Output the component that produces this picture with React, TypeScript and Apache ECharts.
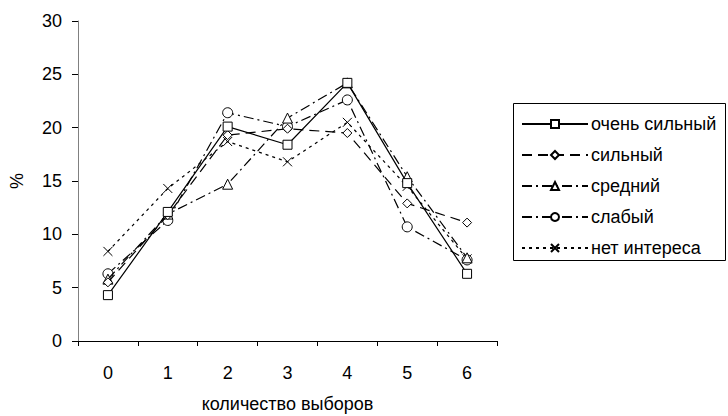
import React, { useEffect, useRef } from "react";
import * as echarts from "echarts";

const categories = ["0", "1", "2", "3", "4", "5", "6"];
const seriesNames = ["очень сильный", "сильный", "средний", "слабый", "нет интереса"];
const veryStrong = [4.3, 12.1, 20.1, 18.4, 24.2, 14.8, 6.3];
const strong = [5.5, 11.8, 19.3, 19.9, 19.5, 12.9, 11.1];
const medium = [5.8, 11.9, 14.7, 20.9, 24.2, 15.4, 7.8];
const weak = [6.3, 11.3, 21.4, 20.1, 22.6, 10.7, 7.6];
const noInterest = [8.4, 14.3, 18.7, 16.8, 20.5, 14.5, 7.7];

const FONT = "'Liberation Sans', Arial, sans-serif";
const FS = 18;

export default function App() {
  const ref = useRef<HTMLDivElement>(null);
  useEffect(() => {
    if (!ref.current) return;
    const chart = echarts.init(ref.current, null, { renderer: "svg" });
    const dataSets = [veryStrong, strong, medium, weak, noInterest];
    const symbols = [
      "rect",
      "diamond",
      "triangle",
      "circle",
      "path://M0,0L10,10M10,0L0,10",
    ];
    const dashes: any[] = ["solid", [10, 6], [10, 4, 2, 4], [10, 4, 2, 4], [3, 4]];
    const sizes = [9, 9, 10, 10, 9];
    chart.setOption({
      animation: false,
      backgroundColor: "#ffffff",
      textStyle: { fontFamily: FONT },
      grid: {
        left: 78,
        right: 231,
        top: 21,
        bottom: 75,
        containLabel: false,
        outerBoundsMode: "none",
      },
      graphic: [
        {
          type: "rect",
          shape: { x: 513.5, y: 103.5, width: 212, height: 157 },
          style: { fill: "none", stroke: "#000", lineWidth: 1 },
          z: 0,
        },
      ],
      legend: {
        orient: "vertical",
        left: 516,
        top: 110,
        itemWidth: 66,
        itemHeight: 10,
        itemGap: 13,
        textStyle: { fontFamily: FONT, fontSize: FS, color: "#000", padding: [0, 0, 0, -2] },
        data: seriesNames,
      },
      xAxis: {
        type: "category",
        data: categories,
        boundaryGap: true,
        name: "количество выборов",
        nameLocation: "middle",
        nameGap: 54,
        nameTextStyle: { fontFamily: FONT, fontSize: FS, color: "#000" },
        axisLine: { lineStyle: { color: "#000", width: 1 } },
        axisTick: { show: true, inside: false, length: 5, lineStyle: { color: "#000" } },
        axisLabel: { margin: 23, fontFamily: FONT, fontSize: FS, color: "#000" },
        splitLine: { show: false },
      },
      yAxis: {
        type: "value",
        min: 0,
        max: 30,
        interval: 5,
        name: "%",
        nameLocation: "middle",
        nameGap: 52,
        nameRotate: 90,
        nameTextStyle: { fontFamily: FONT, fontSize: FS, color: "#000" },
        axisLine: { show: true, lineStyle: { color: "#808080", width: 1 } },
        axisTick: { show: true, inside: false, length: 6, lineStyle: { color: "#000" } },
        axisLabel: { margin: 16, fontFamily: FONT, fontSize: FS, color: "#000" },
        splitLine: { show: false },
      },
      series: dataSets.map((d, i) => ({
        name: seriesNames[i],
        type: "line",
        data: d,
        symbol: symbols[i],
        symbolSize: sizes[i],
        showSymbol: true,
        itemStyle: { color: "#fff", borderColor: "#000", borderWidth: 1 },
        lineStyle: { color: "#000", width: 1.2, type: dashes[i] },
        emphasis: { disabled: true },
        z: 10 - i,
      })),
    });
    return () => chart.dispose();
  }, []);
  return (
    <div
      ref={ref}
      style={{ position: "absolute", left: 0, top: 0, width: 728, height: 416 }}
    />
  );
}
